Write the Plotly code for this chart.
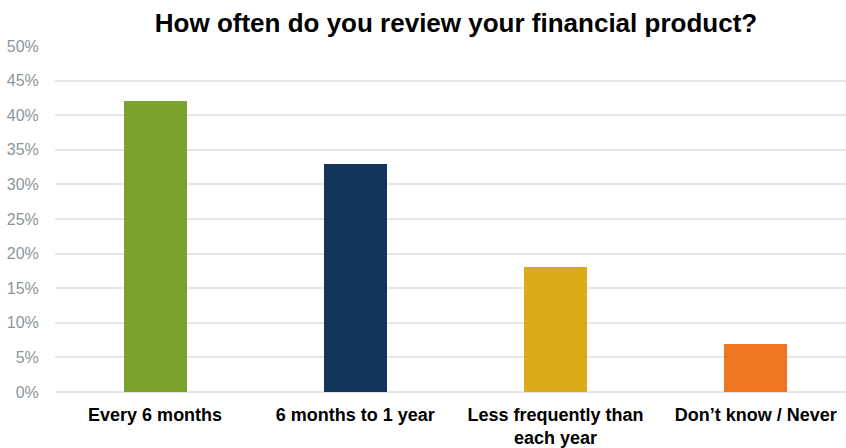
import plotly.graph_objects as go

categories = ["Every 6 months", "6 months to 1 year", "Less frequently than<br>each year", "Don’t know / Never"]
values = [42, 33, 18, 7]
colors = ["#7BA22E", "#14355A", "#D9AB19", "#EE7622"]
y_ticks = [0, 5, 10, 15, 20, 25, 30, 35, 40, 45, 50]

fig = go.Figure(go.Bar(
    x=list(range(len(categories))),
    y=values,
    marker=dict(color=colors, line=dict(width=0)),
    width=0.315,
))

fig.update_layout(
    width=846, height=448,
    margin=dict(l=55, r=0, t=46, b=54),
    paper_bgcolor="white", plot_bgcolor="white",
    font=dict(family="Liberation Sans, Arial, sans-serif"),
    title=dict(text="<b>How often do you review your financial product?</b>",
               x=456/846, xanchor="center", y=1 - 23/448, yanchor="middle",
               font=dict(size=26, color="#000000")),
    showlegend=False,
    bargap=0,
)
fig.update_xaxes(
    range=[-0.5, -0.5 + (846 - 55) / 200.2],
    tickmode="array",
    tickvals=list(range(len(categories))),
    ticktext=["<b>" + c.replace("<br>", "</b><br><b>") + "</b>" for c in categories],
    tickfont=dict(size=18, color="#000000"),
    showgrid=False, showline=False, zeroline=False,
    ticks="outside", ticklen=6, tickcolor="rgba(0,0,0,0)",
)
fig.update_yaxes(
    range=[0, 50],
    tickmode="array",
    tickvals=y_ticks,
    ticktext=[f"{v}%" for v in y_ticks],
    tickfont=dict(size=16, color="#8C959B"),
    showgrid=True, gridcolor="#E6E6E6", gridwidth=1.5,
    zeroline=True, zerolinecolor="#E6E6E6", zerolinewidth=1.5,
    showline=False,
    ticks="outside", ticklen=12, tickcolor="rgba(0,0,0,0)",
)

fig.write_html("out.html")
